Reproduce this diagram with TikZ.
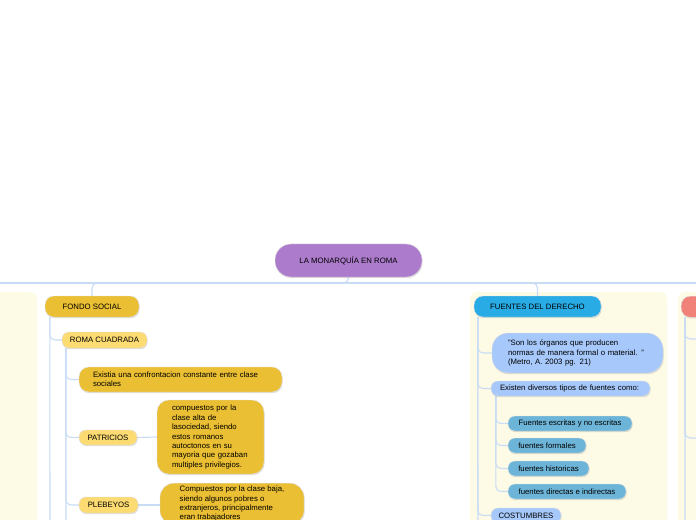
\documentclass[tikz,border=0pt]{standalone}
\usepackage{fontspec}
\setmainfont{Liberation Sans}
\usetikzlibrary{shadows,backgrounds}
\definecolor{rootpurple}{HTML}{AC7BCB}
\definecolor{mainyellow}{HTML}{EBBF33}
\definecolor{softyellow}{HTML}{FCDB72}
\definecolor{mainblue}{HTML}{29ABE5}
\definecolor{paleblue}{HTML}{A6C8FA}
\definecolor{midblue}{HTML}{6DB5D8}
\definecolor{salmon}{HTML}{F08279}
\definecolor{panelbg}{HTML}{FDFBE6}
\definecolor{linkblue}{HTML}{C9DCF6}
\begin{document}
\begin{tikzpicture}[x=1bp,y=-1bp,
  box/.style={draw=black!12, line width=0.4bp, rounded corners=7bp, inner sep=0pt,
    text=black, font=\fontsize{7.8}{9.4}\selectfont,
    drop shadow={shadow xshift=0.6bp, shadow yshift=-1.2bp, opacity=0.25}},
  panel/.style={fill=panelbg, rounded corners=7bp},
  link/.style={draw=linkblue, line width=1.1bp, rounded corners=5bp}]
\clip (0,0) rectangle (696,520);

\node[box, fill=rootpurple, rounded corners=16bp, minimum width=147bp, minimum height=33bp] (root) at (348.5,260.5) {LA MONARQUÍA EN ROMA};

\node[box, fill=mainyellow, rounded corners=9bp, minimum width=94bp, minimum height=21bp] (fondo) at (92,306.5) {FONDO SOCIAL};
\node[box, fill=softyellow, minimum width=85bp, minimum height=16bp] (roma) at (104.5,340) {ROMA CUADRADA};
\node[box, fill=mainyellow, rounded corners=10bp, minimum width=203bp, minimum height=25bp, text width=175bp, align=left] (existia) at (180.5,379.5) {Existia una confrontacion constante entre clase\\sociales};
\node[box, fill=softyellow, minimum width=58bp, minimum height=15bp] (patricios) at (108,437.5) {PATRICIOS};
\node[box, fill=mainyellow, rounded corners=12bp, minimum width=107bp, minimum height=74bp, text width=77bp, align=left] (patdesc) at (210.5,437) {compuestos por la\\clase alta de\\lasociedad, siendo\\estos romanos\\autoctonos en su\\mayoria que gozaban\\multiples privilegios.};
\node[box, fill=softyellow, minimum width=59bp, minimum height=16bp] (plebeyos) at (108.5,505) {PLEBEYOS};
\node[box, fill=mainyellow, rounded corners=14bp, minimum width=144bp, align=left, anchor=north, inner ysep=3bp] (plebdesc) at (232,483) {Compuestos por la clase baja,\\siendo algunos pobres o\\extranjeros, principalmente\\eran trabajadores};

\node[box, fill=mainblue, rounded corners=9bp, minimum width=127bp, minimum height=21bp] (fuentes) at (537.5,306.5) {FUENTES DEL DERECHO};
\node[box, fill=paleblue, rounded corners=16bp, minimum width=171bp, minimum height=40bp, text width=139bp, align=left] (quote) at (577.5,353) {"Son los órganos que producen\\normas de manera formal o material. "\\(Metro, A. 2003 pg. 21)};
\node[box, fill=paleblue, minimum width=159bp, minimum height=15bp, text width=141bp, align=left] (existen) at (570.5,388.5) {Existen diversos tipos de fuentes como:};
\node[box, fill=midblue, minimum width=124bp, minimum height=15bp] (escritas) at (570,423.5) {Fuentes escritas y no escritas};
\node[box, fill=midblue, minimum width=78bp, minimum height=15bp] (formales) at (547,445.5) {fuentes formales};
\node[box, fill=midblue, minimum width=81bp, minimum height=15bp] (historicas) at (548.5,468.5) {fuentes historicas};
\node[box, fill=midblue, minimum width=118bp, minimum height=15bp] (directas) at (567,491.5) {fuentes directas e indirectas};
\node[box, fill=paleblue, minimum width=70bp, minimum height=15bp] (costumbres) at (526,515.5) {COSTUMBRES};

\node[box, fill=salmon, rounded corners=9bp, minimum width=100bp, minimum height=21bp, anchor=north west] (rightroot) at (681,296) {};

\coordinate (busL) at (0,283);
\coordinate (busR) at (696,283);
\coordinate (fondoEnd) at (50,525);
\coordinate (romaEnd) at (66,525);
\coordinate (fuentesEnd) at (478,525);
\coordinate (rightEnd) at (685,525);
\coordinate (rightA) at (700,339);
\coordinate (rightB) at (700,438);

\begin{scope}[on background layer]
\fill[white] (0,0) rectangle (696,520);
\fill[panel] (-10,292) rectangle (37,540);
\fill[panel] (470,292) rectangle (667,540);
\fill[panel] (678,292) rectangle (730,540);

\draw[link] (busL) -- (busR);
\draw[link] (root.south) -- (root.south |- busL) -| (fondo.north);
\draw[link] (root.south |- busL) -| (fuentes.north);

\draw[link] ([xshift=5bp]fondo.south west) -- (fondoEnd);
\draw[link] ([xshift=5bp]fondo.south west) |- (roma.west);
\draw[link] ([xshift=4bp]roma.south west) -- (romaEnd);
\draw[link] ([xshift=4bp]roma.south west) |- (existia.west);
\draw[link] ([xshift=4bp]roma.south west) |- (patricios.west);
\draw[link] ([xshift=4bp]roma.south west) |- (plebeyos.west);
\draw[link] (patricios.east) -- (patdesc.west);
\draw[link] (plebeyos.east) -- (plebeyos.east -| plebdesc.west);

\draw[link] ([xshift=4bp]fuentes.south west) -- (fuentesEnd);
\draw[link] ([xshift=4bp]fuentes.south west) |- (quote.west);
\draw[link] ([xshift=4bp]fuentes.south west) |- (existen.west);
\draw[link] ([xshift=4bp]fuentes.south west) |- (costumbres.west);
\draw[link] ([xshift=5bp]existen.south west) |- (escritas.west);
\draw[link] ([xshift=5bp]existen.south west) |- (formales.west);
\draw[link] ([xshift=5bp]existen.south west) |- (historicas.west);
\draw[link] ([xshift=5bp]existen.south west) |- (directas.west);

\draw[link] ([xshift=4bp]rightroot.south west) -- (rightEnd);
\draw[link] ([xshift=4bp]rightroot.south west) |- (rightA);
\draw[link] ([xshift=4bp]rightroot.south west) |- (rightB);
\end{scope}
\end{tikzpicture}
\end{document}
